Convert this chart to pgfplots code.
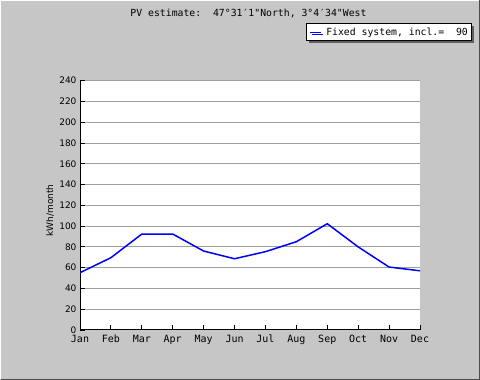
\documentclass[border=0pt]{standalone}
\usepackage{fontspec}
\usepackage{pgfplots}
\pgfplotsset{compat=1.18}
\usetikzlibrary{shadows}
\setmainfont{DejaVu Sans Mono}[Ligatures=TeXOff]
\newfontfamily\dvs{DejaVu Sans}
\definecolor{bg}{RGB}{198,198,198}
\definecolor{gridc}{RGB}{160,160,160}
\definecolor{shad}{RGB}{96,96,96}
\begin{document}
\begin{tikzpicture}[x=1pt,y=1pt]
\fill[bg] (0,0) rectangle (480,380);
\draw[white,line width=1pt] (0.5,0.5) -- (0.5,379.5) -- (479.5,379.5);
\draw[black!70,line width=1pt] (0.5,0.5) -- (479.5,0.5) -- (479.5,379.5);
\node[font=\fontsize{9.8}{11}\selectfont] at (248.5,367) {PV estimate:\ \ 47°31′1"North, 3°4′34"West};
\begin{axis}[
  at={(80pt,50pt)}, anchor=south west,
  scale only axis, width=340pt, height=249.3pt,
  xmin=0, xmax=11, ymin=0, ymax=240,
  axis x line=bottom, axis y line=left, axis line style={-, black, line width=1pt},
  axis background/.style={fill=white},
  xtick={0,...,11},
  xticklabels={Jan,Feb,Mar,Apr,May,Jun,Jul,Aug,Sep,Oct,Nov,Dec},
  ytick={0,20,...,240},
  ymajorgrids, grid style={gridc, line width=1pt},
  tick align=inside, major tick length=4.5pt, tick style={black, line width=0.9pt},
  xticklabel style={font=\fontsize{10}{12}\selectfont, yshift=-1.5pt},
  yticklabel style={font=\dvs\fontsize{9}{11}\selectfont},
  /pgf/number format/assume math mode=true,
  ylabel={kWh/month},
  every axis y label/.style={at={(axis description cs:-0.088,0.48)}, rotate=90, anchor=center, font=\dvs\fontsize{9}{11}\selectfont},
  legend image code/.code={\draw[#1] (0pt,0pt) -- (11pt,0pt);},
  legend style={at={(axis description cs:1.154,1.230)}, anchor=north east,
    draw=black, line width=1pt, fill=white, font=\fontsize{9.8}{12}\selectfont,
    inner xsep=2pt, inner ysep=2pt, nodes={inner sep=2pt},
    /tikz/every odd column/.append style={column sep=3pt},
    drop shadow={shadow xshift=2pt, shadow yshift=-2pt, fill=shad, opacity=1}},
]
\addplot[blue, line width=1.5pt, mark=none] coordinates {
  (0,55.2) (1,69.6) (2,92.4) (3,92.4) (4,76) (5,68.6)
  (6,75.4) (7,85) (8,102.3) (9,80) (10,60.6) (11,57)
};
\addlegendentry{Fixed system, incl.=\ \ 90}
\end{axis}
\end{tikzpicture}
\end{document}
